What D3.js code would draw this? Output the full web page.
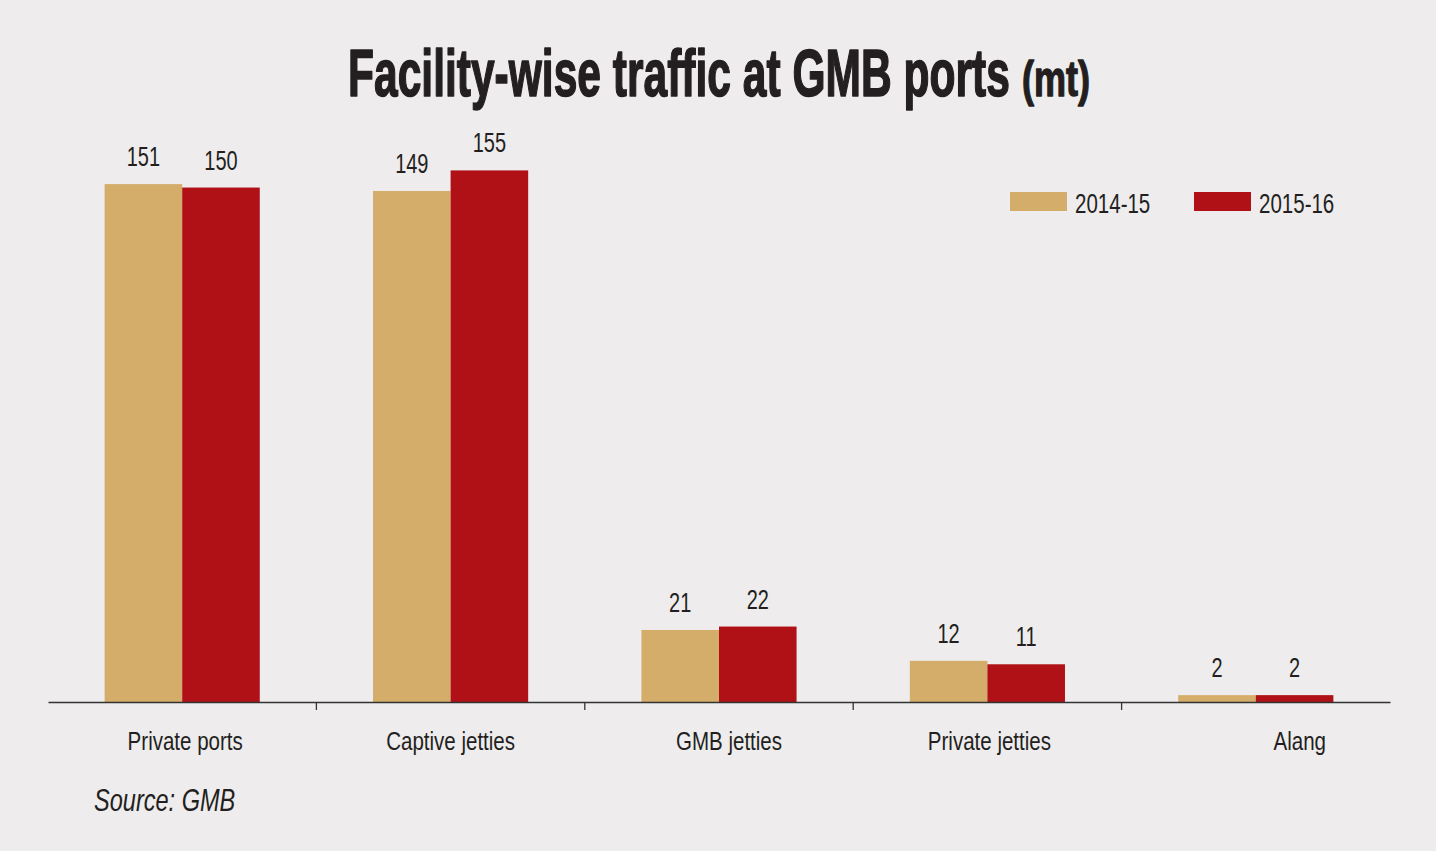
<!DOCTYPE html>
<html>
<head>
<meta charset="utf-8">
<script src="https://cdn.jsdelivr.net/npm/d3@7"></script>
<style>
  html, body { margin: 0; padding: 0; background: #eeeced; }
  svg { display: block; }
  text { font-family: "Liberation Sans", Arial, sans-serif; fill: #231f20; }
</style>
</head>
<body>
<svg id="chart" width="1436" height="851"></svg>
<script>
// ---- data ----
const categories = ["Private ports", "Captive jetties", "GMB jetties", "Private jetties", "Alang"];
const seriesNames = ["2014-15", "2015-16"];
const values2014 = [151, 149, 21, 12, 2];
const values2015 = [150, 155, 22, 11, 2];
const seriesColors = ["#d4ad6a", "#b01117"];
const titleMain = "Facility-wise traffic at GMB ports";
const titleUnit = "(mt)";
const sourceText = "Source: GMB";

// ---- layout ----
const W = 1436, H = 851;
const left = 48, right = 1390, baseY = 702;
const labelShift = [3, 0, 10, 2, 44];
const SX = 0.78; // horizontal condensing of the narrow typeface

const svg = d3.select("#chart");
svg.append("rect").attr("width", W).attr("height", H).attr("fill", "#eeeced");

function ctext(parent, x, y, str, size, opts = {}) {
  const g = parent.append("g").attr("transform", `translate(${x},${y}) scale(${opts.sx || SX},1)`);
  const t = g.append("text").attr("font-size", size)
    .attr("text-anchor", opts.anchor || "start")
    .text(str);
  if (opts.weight) t.attr("font-weight", opts.weight);
  if (opts.style) t.attr("font-style", opts.style);
  if (opts.stroke) t.attr("stroke", "#231f20").attr("stroke-width", opts.stroke).attr("stroke-linejoin", "round");
  if (opts.width) {
    const w = t.node().getComputedTextLength();
    g.attr("transform", `translate(${x},${y}) scale(${opts.width / w},1)`);
  }
  return g;
}

const rows = categories.map((c, i) => ({ cat: c, vals: [values2014[i], values2015[i]] }));

const x0 = d3.scaleBand().domain(categories).range([left, right]).padding(0);
const x1 = d3.scaleBand().domain(seriesNames).range([0, x0.bandwidth()]).paddingInner(0).paddingOuter(0.73);
const y = d3.scaleLinear().domain([0, 155]).range([baseY, 170.4]);

// bars
const groups = svg.append("g").selectAll("g").data(rows).join("g")
  .attr("transform", d => `translate(${x0(d.cat)},0)`);

groups.selectAll("rect").data(d => d.vals.map((v, i) => ({ s: seriesNames[i], v, i })))
  .join("rect")
  .attr("x", d => x1(d.s))
  .attr("width", x1.bandwidth())
  .attr("y", d => y(d.v))
  .attr("height", d => y(0) - y(d.v))
  .attr("fill", d => seriesColors[d.i]);

groups.each(function (d) {
  const g = d3.select(this);
  d.vals.forEach((v, i) => {
    ctext(g, x1(seriesNames[i]) + x1.bandwidth() / 2, y(v) - 18, String(v), 27, { anchor: "middle", sx: 0.74 });
  });
});

// axis
const axis = d3.axisBottom(x0).tickSize(0).tickFormat("");
const axG = svg.append("g").attr("transform", `translate(0,${baseY})`).call(axis);
axG.select(".domain").attr("stroke", "#333").attr("stroke-width", 1.3);

svg.append("g").selectAll("line").data(categories.slice(1)).join("line")
  .attr("x1", d => x0(d)).attr("x2", d => x0(d))
  .attr("y1", baseY).attr("y2", baseY + 8)
  .attr("stroke", "#333").attr("stroke-width", 1.3);

const catG = svg.append("g");
categories.forEach((c, i) => {
  ctext(catG, x0(c) + x0.bandwidth() / 2 + labelShift[i], 750, c, 26, { anchor: "middle", sx: 0.79 });
});

// title
ctext(svg, 348, 96, titleMain, 67, { weight: "bold", width: 662, stroke: 1.6 });
ctext(svg, 1022, 96, titleUnit, 50, { weight: "bold", width: 68, stroke: 1.4 });

// legend
const legX = [1010, 1194];
seriesNames.forEach((s, i) => {
  svg.append("rect").attr("x", legX[i]).attr("y", 192).attr("width", 57).attr("height", 19)
    .attr("fill", seriesColors[i]);
  ctext(svg, legX[i] + 65, 213, s, 27, { sx: 0.76 });
});

// source
ctext(svg, 94, 811, sourceText, 31, { style: "italic", sx: 0.76 });
</script>
</body>
</html>
